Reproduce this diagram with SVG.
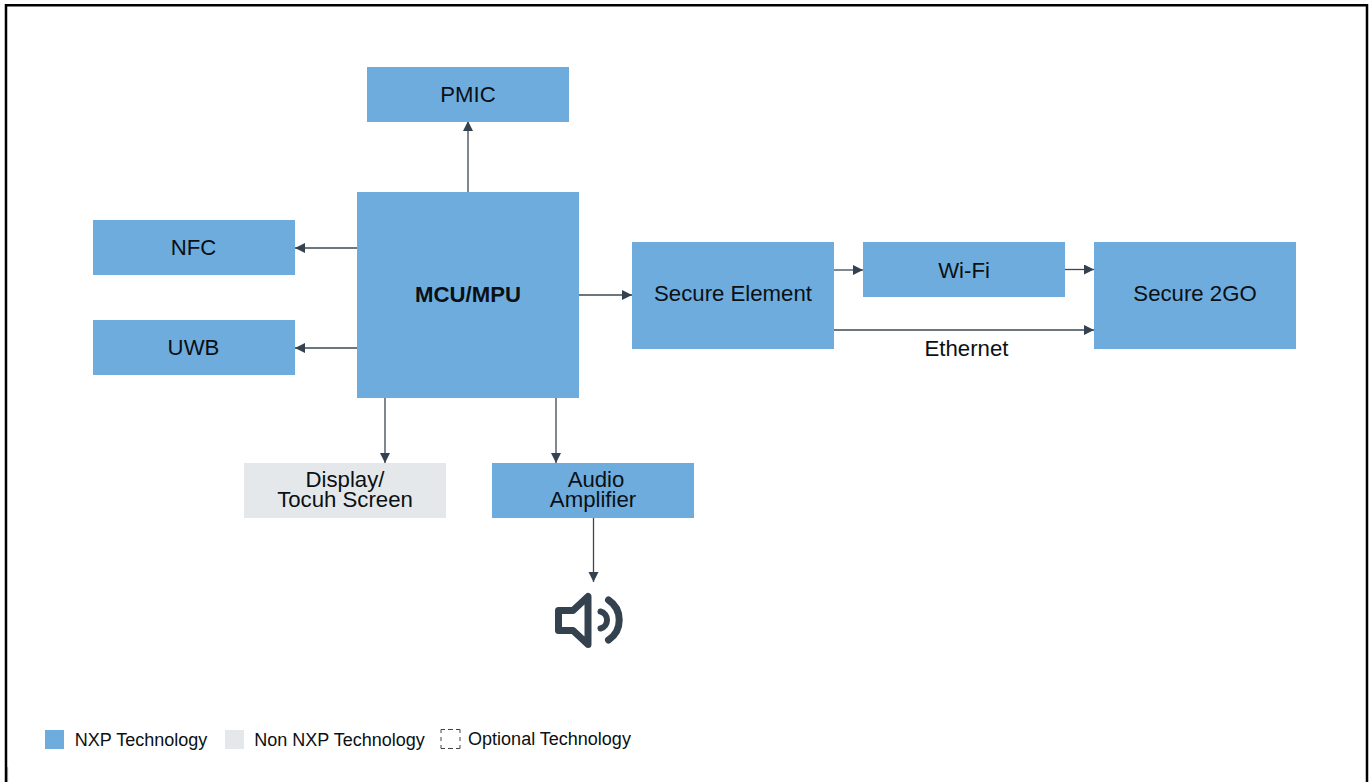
<svg xmlns="http://www.w3.org/2000/svg" width="1369" height="782" viewBox="0 0 1369 782">
<style>
text{font-family:"Liberation Sans",Arial,sans-serif;fill:#0b1014;text-anchor:middle}
.l{font-size:22.2px}
.s{font-size:18px}
.b{fill:#6eacde}
.g{fill:#e4e8eb}
.c{fill:none;stroke:#3a4854;stroke-width:1.3}
</style>
<defs><marker id="a" markerUnits="userSpaceOnUse" markerWidth="11" markerHeight="11" refX="10" refY="5" orient="auto"><path d="M0 0L10 5L0 10Z" fill="#34424f"/></marker></defs>
<rect width="1369" height="782" fill="#fff"/>
<path d="M6 782V5.200H1367V782" fill="none" stroke="#000" stroke-width="2.500"/>
<path d="M7.600 767V782" fill="none" stroke="#888" stroke-width="1"/>
<g id="connectors">
<path class="c" marker-end="url(#a)" d="M468 192V121"/>
<path class="c" marker-end="url(#a)" d="M357 248H295"/>
<path class="c" marker-end="url(#a)" d="M357 348H295"/>
<path class="c" marker-end="url(#a)" d="M579 295H632"/>
<path class="c" marker-end="url(#a)" d="M834 270H863"/>
<path class="c" marker-end="url(#a)" d="M1065 269.500H1094"/>
<path class="c" marker-end="url(#a)" d="M834 330H1094"/>
<path class="c" marker-end="url(#a)" d="M385 398V463"/>
<path class="c" marker-end="url(#a)" d="M556 398V463"/>
<path class="c" marker-end="url(#a)" d="M593.500 518V582"/>
</g>
<g id="pmic"><rect class="b" x="367" y="67" width="202" height="55"/><text class="l" x="468" y="102">PMIC</text></g>
<g id="nfc"><rect class="b" x="93" y="220" width="202" height="55"/><text class="l" x="193.500" y="255">NFC</text></g>
<g id="uwb"><rect class="b" x="93" y="320" width="202" height="55"/><text class="l" x="193.500" y="355">UWB</text></g>
<g id="mcu"><rect class="b" x="357" y="192" width="222" height="206"/><text class="l" x="468" y="301.500" font-weight="700">MCU/MPU</text></g>
<g id="secure-element"><rect class="b" x="632" y="242" width="202" height="107"/><text class="l" x="733" y="301">Secure Element</text></g>
<g id="wifi"><rect class="b" x="863" y="242" width="202" height="55"/><text class="l" x="964" y="278">Wi-Fi</text></g>
<g id="secure-2go"><rect class="b" x="1094" y="242" width="202" height="107"/><text class="l" x="1195" y="301">Secure 2GO</text></g>
<g id="ethernet-label"><text class="l" x="966.500" y="356">Ethernet</text></g>
<g id="display"><rect class="g" x="244" y="463" width="202" height="55"/><text class="l" x="345" y="487">Display/</text><text class="l" x="345" y="507">Tocuh Screen</text></g>
<g id="audio"><rect class="b" x="492" y="463" width="202" height="55"/><text class="l" x="596" y="487">Audio</text><text class="l" x="593" y="507">Amplifier</text></g>
<g id="speaker" fill="none" stroke="#34424f" stroke-width="7" stroke-linecap="round" stroke-linejoin="round">
<path d="M588 596.500V644.500L573 630.500H558.500V610.500H573Z"/>
<path d="M600.500 611.500A8.800 8.800 0 0 1 600.500 628.500" stroke-width="6"/>
<path d="M608.500 600A24 24 0 0 1 608.500 640"/>
</g>
<g id="legend">
<rect class="b" x="45" y="730" width="19" height="19"/><text class="s" x="141" y="746">NXP Technology</text>
<rect class="g" x="225" y="730" width="19" height="19"/><text class="s" x="339.500" y="746">Non NXP Technology</text>
<path d="M445 729.500H441V733M456 729.500H460V733M445 748.500H441V745M456 748.500H460V745M448 729.500H453M448 748.500H453M441 737V741M460 737V741" fill="none" stroke="#444" stroke-width="1"/><text class="s" x="549.500" y="745">Optional Technology</text>
</g>
</svg>
